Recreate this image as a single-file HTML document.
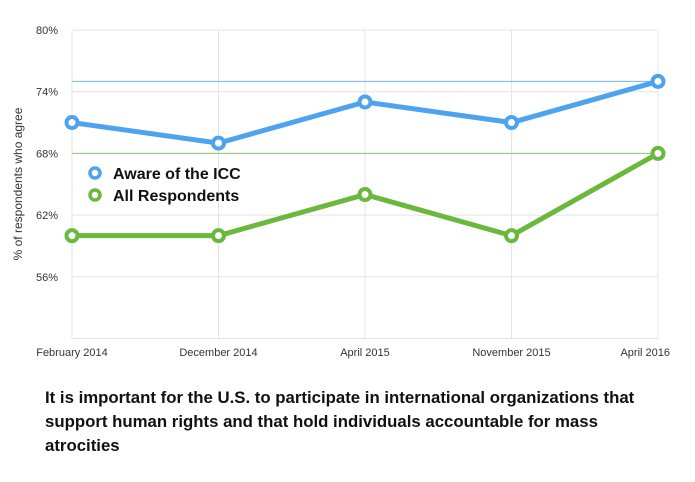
<!DOCTYPE html>
<html><head><meta charset="utf-8"><style>
body{margin:0;background:#fff;width:695px;height:477px;overflow:hidden;font-family:"Liberation Sans",sans-serif}
svg text{font-family:"Liberation Sans",sans-serif}
</style></head><body>
<svg id="chart" width="695" height="477" viewBox="0 0 695 477" xmlns="http://www.w3.org/2000/svg">
<g id="grid"></g>
<g id="axes"></g>
<g id="series"></g>
<text transform="translate(22,184) rotate(-90)" text-anchor="middle" font-size="12" fill="#333">% of respondents who agree</text>
<g>
<g>
<circle cx="95" cy="173" r="5" fill="#fff" stroke="#4da3ee" stroke-width="3.5"/>
<text x="113" y="179" font-size="16" font-weight="bold" fill="#111">Aware of the ICC</text></g>
<g>
<circle cx="95" cy="195" r="5" fill="#fff" stroke="#6ab83c" stroke-width="3.5"/>
<text x="113" y="201" font-size="16" font-weight="bold" fill="#111">All Respondents</text></g>
</g>
<text font-size="16.8" font-weight="bold" fill="#111">
<tspan x="45" y="403">It is important for the U.S. to participate in international organizations that</tspan>
<tspan x="45" y="427">support human rights and that hold individuals accountable for mass</tspan>
<tspan x="45" y="451">atrocities</tspan></text>
</svg>
<script>
const categories=["February 2014","December 2014","April 2015","November 2015","April 2016"];
const awareValues=[71,69,73,71,75];
const allValues=[60,60,64,60,68];
const yTicks=[80,74,68,62,56];
const awareRef=75;
const allRef=68;
const NS="http://www.w3.org/2000/svg";
const x0=72,x1=658,yTop=30,yBot=338.5,vMin=50,vMax=80;
function xs(i){return x0+(x1-x0)*i/(categories.length-1);}
function ys(v){return yBot-(v-vMin)/(vMax-vMin)*(yBot-yTop);}
function mk(tag,attrs,parent){const e=document.createElementNS(NS,tag);for(const k in attrs)e.setAttribute(k,attrs[k]);parent.appendChild(e);return e;}
const grid=document.getElementById('grid'),axes=document.getElementById('axes'),series=document.getElementById('series');
yTicks.forEach(t=>{
 const l=mk('line',{x1:x0,x2:x1,y1:ys(t),y2:ys(t),stroke:'#e4e4e8','stroke-width':1},grid);
 
 
 const tx=mk('text',{x:58,y:ys(t)+4,'text-anchor':'end','font-size':11,fill:'#333'},axes);
 tx.textContent=t+'%';
 
 
});
const bl=mk('line',{x1:x0,x2:x1,y1:yBot,y2:yBot,stroke:'#e4e4e8','stroke-width':1},grid);


categories.forEach((c,i)=>{
 const l=mk('line',{x1:xs(i),x2:xs(i),y1:yTop,y2:yBot,stroke:'#e4e4e8','stroke-width':1},grid);
 
 
 let anchor='middle',x=xs(i);
 if(i===categories.length-1){anchor='end';x=x+12;}
 const tx=mk('text',{x:x,y:356,'text-anchor':anchor,'font-size':11,fill:'#333'},axes);
 tx.textContent=c;
 
 
});
const r1=mk('line',{x1:x0,x2:x1,y1:ys(awareRef),y2:ys(awareRef),stroke:'#6fb3f0','stroke-width':1},grid);


const r2=mk('line',{x1:x0,x2:x1,y1:ys(allRef),y2:ys(allRef),stroke:'#8cc864','stroke-width':1},grid);


function drawSeries(vals,color,name){
 const p=mk('polyline',{points:vals.map((v,i)=>xs(i)+','+ys(v)).join(' '),fill:'none',stroke:color,'stroke-width':5,'stroke-linejoin':'round'},series);
 
 
 vals.forEach((v,i)=>{
  const c=mk('circle',{cx:xs(i),cy:ys(v),r:5.5,fill:'#fff',stroke:color,'stroke-width':4},series);
  
  
 });
}
drawSeries(allValues,'#6ab83c','all-respondents');
drawSeries(awareValues,'#4da3ee','aware-of-icc');
</script>
</body></html>
